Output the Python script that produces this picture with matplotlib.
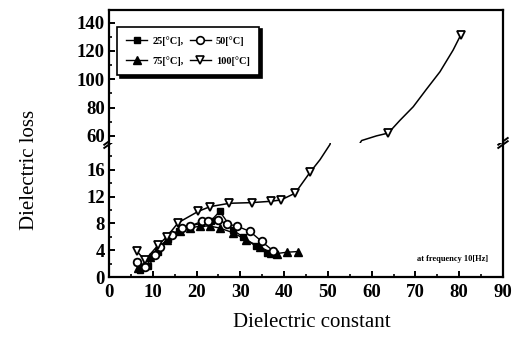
#!/usr/bin/env python3

import numpy as np
import matplotlib
matplotlib.use("Agg")
import matplotlib.pyplot as plt
from matplotlib.ticker import MultipleLocator
from matplotlib.lines import Line2D

# dielectric constant (x) / dielectric loss (y)
x25 = [6.3, 7.1, 9.0, 11.2, 13.5, 16.0, 18.5, 21.0, 23.3, 25.3, 28.3, 30.6, 33.5, 36.0, 38.0]
y25 = [2.3, 1.0, 1.6, 3.8, 5.6, 6.9, 7.6, 8.0, 8.4, 9.8, 7.0, 6.0, 4.6, 3.6, 3.4]

x50 = [6.3, 8.2, 10.5, 11.6, 14.3, 16.6, 18.5, 21.2, 22.7, 25.0, 27.0, 29.2, 32.2, 34.9, 37.5]
y50 = [2.3, 1.5, 3.3, 4.5, 6.3, 7.3, 7.6, 8.3, 8.4, 8.5, 7.9, 7.6, 6.8, 5.3, 3.9]

x75 = [6.7, 9.4, 13.2, 16.2, 18.5, 20.8, 23.1, 25.3, 28.4, 31.4, 34.5, 37.1, 38.3, 40.6, 43.2]
y75 = [1.3, 3.0, 5.5, 6.8, 7.3, 7.6, 7.6, 7.3, 6.6, 5.5, 4.5, 3.6, 3.5, 3.7, 3.8]

x100 = [6.3, 8.2, 11.3, 13.2, 15.8, 20.4, 23.1, 27.5, 32.6, 37.0, 39.3, 42.5, 45.9, 63.8, 80.4]
y100 = [3.9, 2.5, 4.8, 6.0, 8.1, 9.8, 10.5, 11.0, 11.1, 11.3, 11.5, 12.5, 15.6, 62.0, 131.6]

# hand drawn guide curve of the 100 C series between/after the markers
guide100_x = [48.2, 50.5, 57.7, 61.1, 66.4, 69.5, 72.5, 75.6, 78.6]
guide100_y = [17.5, 19.8, 56.7, 60.0, 70.8, 80.6, 92.9, 105.3, 120.6]

labels = ["25[\u00b0C],", "50[\u00b0C]", "75[\u00b0C],", "100[\u00b0C]"]

SERIF = "Liberation Serif"


def main() -> None:
    fig = plt.figure(figsize=(5.25, 3.42), dpi=100)
    axLo = fig.add_axes([0.2076, 0.190, 0.7505, 0.392])
    axHi = fig.add_axes([0.2076, 0.582, 0.7505, 0.389], sharex=axLo)

    lineX = np.concatenate([x100, guide100_x])
    lineY = np.concatenate([y100, guide100_y])
    order = np.argsort(lineX)

    for ax in (axLo, axHi):
        ax.plot(x75, y75, "k-", lw=1.0, marker="^", ms=5.5, mfc="k", mec="k", zorder=3)
        ax.plot(x25, y25, "k-", lw=1.0, marker="s", ms=5, mfc="k", mec="k", zorder=3)
        ax.plot(x50, y50, "k-", lw=1.0, marker="o", ms=5.5, mfc="white", mec="k", mew=1.3, zorder=4)
        ax.plot(lineX[order], lineY[order], "k-", lw=1.1, zorder=4)
        ax.plot(x100, y100, ls="none", marker="v", ms=6.3, mfc="white", mec="k", mew=1.3, zorder=5)

    axLo.set_xlim(0, 90)
    axLo.set_ylim(0, 20)
    axHi.set_ylim(55, 149)

    axLo.spines["top"].set_visible(False)
    axHi.spines["bottom"].set_visible(False)
    for ax in (axLo, axHi):
        for s in ax.spines.values():
            s.set_linewidth(1.6)

    axLo.xaxis.set_major_locator(MultipleLocator(10))
    axLo.xaxis.set_minor_locator(MultipleLocator(5))
    axLo.yaxis.set_major_locator(MultipleLocator(4))
    axLo.yaxis.set_minor_locator(MultipleLocator(2))
    axHi.yaxis.set_major_locator(MultipleLocator(20))
    axHi.yaxis.set_minor_locator(MultipleLocator(10))
    axLo.set_yticks([0, 4, 8, 12, 16])

    for ax in (axLo, axHi):
        ax.tick_params(which="major", direction="in", length=4, width=1.4,
                       top=False, right=False, labelsize=13.5, pad=3)
        ax.tick_params(which="minor", direction="in", length=2, width=1.2,
                       top=False, right=False)
        for t in ax.get_xticklabels() + ax.get_yticklabels():
            t.set_fontfamily(SERIF)
            t.set_fontweight("bold")
    axHi.tick_params(axis="x", which="both", bottom=False, labelbottom=False)
    axLo.tick_params(axis="x", pad=5)

    # break marks on both spines
    for xb in (0.0, 1.0):
        for dy in (-0.012, 0.012):
            axLo.plot([xb - 0.012, xb + 0.012], [1.0 + dy - 0.025, 1.0 + dy + 0.025],
                      transform=axLo.transAxes, color="k", lw=1.4, clip_on=False, zorder=6)

    axLo.text(86.5, 2.7, "at frequency 10[Hz]", ha="right", va="center",
              fontsize=6, fontweight="bold", family=SERIF)

    handles = [
        Line2D([], [], color="k", lw=1.0, marker="s", ms=5, mfc="k"),
        Line2D([], [], color="k", lw=1.0, marker="^", ms=5.5, mfc="k"),
        Line2D([], [], color="k", lw=1.0, marker="o", ms=5.5, mfc="white", mew=1.2),
        Line2D([], [], color="k", lw=1.0, marker="v", ms=6, mfc="white", mew=1.2),
    ]
    leg = axHi.legend(handles, [labels[0], labels[2], labels[1], labels[3]], ncol=2,
                      loc="upper left", bbox_to_anchor=(0.02, 0.875), borderaxespad=0,
                      frameon=True, fancybox=False, shadow={"color": "k", "alpha": 1},
                      prop={"family": SERIF, "weight": "bold", "size": 7.5},
                      handlelength=2.0, handletextpad=0.5, columnspacing=0.6,
                      labelspacing=1.0, borderpad=0.9)
    leg.get_frame().set_edgecolor("k")
    leg.get_frame().set_linewidth(1.2)

    fig.text(0.057, 0.503, "Dielectric loss", rotation=90, ha="center", va="center",
             fontsize=15, family=SERIF)
    fig.text(0.593, 0.058, "Dielectric constant", ha="center", va="center",
             fontsize=15, family=SERIF)

    fig.savefig("out.png", dpi=100)


if __name__ == "__main__":
    main()
